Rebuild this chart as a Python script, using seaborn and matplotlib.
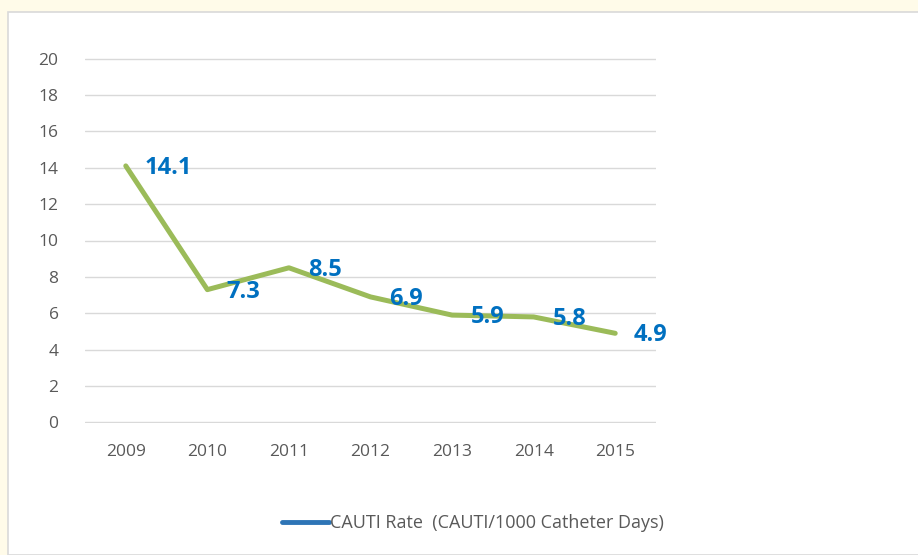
import pandas as pd
import numpy as np
import matplotlib
matplotlib.use("Agg")
import matplotlib.pyplot as plt
import seaborn as sns
from matplotlib.lines import Line2D
from matplotlib.patches import Rectangle

years = ['2009', '2010', '2011', '2012', '2013', '2014', '2015']
rates = [14.1, 7.3, 8.5, 6.9, 5.9, 5.8, 4.9]
labels = ['14.1', '7.3', '8.5', '6.9', '5.9', '5.8', '4.9']
yticks = [0, 2, 4, 6, 8, 10, 12, 14, 16, 18, 20]

df = pd.DataFrame({'pos': range(len(years)), 'rate': rates})

sns.set_style('white')
plt.rcParams['font.family'] = ['Open Sans', 'DejaVu Sans']

fig = plt.figure(figsize=(9.18, 5.55), dpi=100)
fig.patch.set_facecolor('#fffbe9')
# white chart box with thin grey border
fig.patches.append(Rectangle((8 / 918, 0), 1, 1 - 12 / 555, transform=fig.transFigure,
                             facecolor='white', edgecolor='#d9d9d9', linewidth=1.2, zorder=-5))

ax = fig.add_axes([85 / 918, 1 - 423 / 555, (656 - 85) / 918, (423 - 58) / 555])
ax.set_facecolor('none')

sns.lineplot(data=df, x='pos', y='rate', ax=ax, color='#9bbb59', linewidth=3.6,
             legend=False, zorder=3)

for i, (v, t) in enumerate(zip(rates, labels)):
    ax.annotate(t, (i, v), xytext=(13.5, -1.5), textcoords='offset points',
                ha='left', va='center', color='#0070c0', fontsize=17,
                fontweight='bold', zorder=4)

ax.set_xlim(-0.5, len(years) - 0.5)
ax.set_ylim(-0.03, 20.03)
ax.set_yticks(yticks)
ax.set_xticks(range(len(years)))
ax.set_xticklabels(years)
ax.grid(axis='y', color='#d9d9d9', linewidth=1)
ax.grid(axis='x', visible=False)
for s in ax.spines.values():
    s.set_visible(False)
ax.tick_params(axis='both', length=0, labelsize=12.5, labelcolor='#595959')
ax.tick_params(axis='y', pad=19)
ax.tick_params(axis='x', pad=15)
ax.set_xlabel('')
ax.set_ylabel('')

handle = Line2D([], [], color='#2e75b6', linewidth=3.5, solid_capstyle='round')
fig.legend([handle], ['CAUTI Rate  (CAUTI/1000 Catheter Days)'],
           loc='center', bbox_to_anchor=(473 / 918, 1 - 523 / 555), frameon=False,
           fontsize=13, labelcolor='#595959', handlelength=2.6, handletextpad=0.05)

fig.savefig('out.png', dpi=100, facecolor=fig.get_facecolor())
